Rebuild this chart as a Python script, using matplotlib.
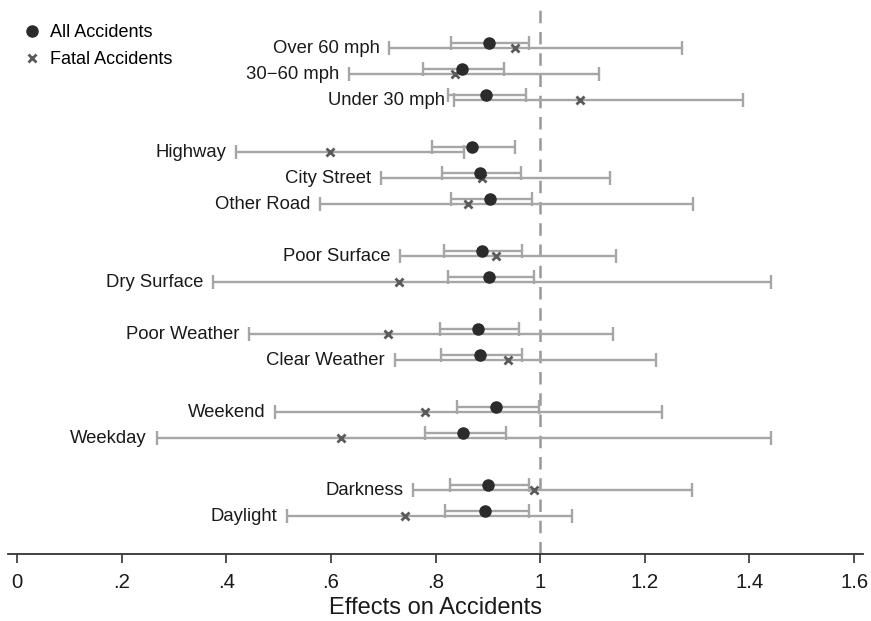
import numpy as np
import matplotlib
matplotlib.use("Agg")
import matplotlib.pyplot as plt

plt.rcParams['font.family'] = ['Liberation Sans', 'DejaVu Sans']

# Categories grouped as in the figure (blank row between groups)
groups = [
    ["Over 60 mph", "30\u221260 mph", "Under 30 mph"],
    ["Highway", "City Street", "Other Road"],
    ["Poor Surface", "Dry Surface"],
    ["Poor Weather", "Clear Weather"],
    ["Weekend", "Weekday"],
    ["Darkness", "Daylight"],
]

# All accidents: estimate, lower, upper
all_est = [0.903, 0.851, 0.897, 0.869, 0.886, 0.904, 0.888, 0.903, 0.882, 0.885, 0.915, 0.853, 0.900, 0.895]
all_lo = [0.830, 0.776, 0.824, 0.794, 0.813, 0.829, 0.817, 0.823, 0.809, 0.811, 0.841, 0.780, 0.827, 0.818]
all_hi = [0.979, 0.930, 0.973, 0.951, 0.964, 0.985, 0.965, 0.988, 0.959, 0.965, 0.997, 0.934, 0.978, 0.978]

# Fatal accidents: estimate, lower, upper
fat_est = [0.952, 0.838, 1.077, 0.598, 0.888, 0.863, 0.916, 0.731, 0.709, 0.939, 0.779, 0.619, 0.988, 0.741]
fat_lo = [0.712, 0.634, 0.836, 0.418, 0.696, 0.579, 0.733, 0.374, 0.443, 0.722, 0.494, 0.267, 0.757, 0.517]
fat_hi = [1.271, 1.112, 1.387, 0.855, 1.134, 1.292, 1.145, 1.442, 1.140, 1.221, 1.232, 1.442, 1.291, 1.061]

xticks = [0, 0.2, 0.4, 0.6, 0.8, 1.0, 1.2, 1.4, 1.6]
xticklabels = ["0", ".2", ".4", ".6", ".8", "1", "1.2", "1.4", "1.6"]

# row positions
labels, rows = [], []
r = 0
for g in groups:
    for lab in g:
        labels.append(lab)
        rows.append(r)
        r += 1
    r += 1
rows = np.array(rows, dtype=float)

all_est = np.array(all_est); all_lo = np.array(all_lo); all_hi = np.array(all_hi)
fat_est = np.array(fat_est); fat_lo = np.array(fat_lo); fat_hi = np.array(fat_hi)

fig = plt.figure(figsize=(8.71, 6.21), dpi=100)
ax = fig.add_axes([0.0092, 0.1079, 0.9816, 0.884])

ebar = '#a6a6a6'
y_all = rows - 0.2

ax.axvline(1, color='#999999', lw=1.8, ls=(0, (5, 3.5)), zorder=1)

ax.errorbar(fat_est, rows, xerr=[fat_est - fat_lo, fat_hi - fat_est], fmt='none',
            ecolor=ebar, elinewidth=1.7, capsize=5, capthick=1.7, zorder=2)
ax.errorbar(all_est, y_all, xerr=[all_est - all_lo, all_hi - all_est], fmt='none',
            ecolor=ebar, elinewidth=1.7, capsize=5, capthick=1.7, zorder=2)

ax.plot(all_est, y_all, 'o', color='#2b2b2b', ms=8, zorder=4, label='All Accidents')
ax.plot(fat_est, rows, 'x', color='#5a5a5a', ms=6, mew=2, zorder=3, label='Fatal Accidents')

for lab, y, lo in zip(labels, rows, fat_lo):
    ax.annotate(lab, (lo, y), xytext=(-7, 0), textcoords='offset points',
                ha='right', va='center', fontsize=13.3, color='#1a1a1a')

ax.set_xlim(-0.017, 1.617)
ax.set_ylim(19.45, -1.67)
ax.set_yticks([])
for s in ['left', 'right', 'top']:
    ax.spines[s].set_visible(False)
ax.spines['bottom'].set_color('#333333')
ax.spines['bottom'].set_linewidth(1.3)
ax.set_xticks(xticks)
ax.set_xticklabels(xticklabels)
ax.tick_params(axis='x', length=6.5, width=1.2, color='#333333', labelsize=14.7,
               labelcolor='#1a1a1a', pad=7)
ax.set_xlabel('Effects on Accidents', fontsize=17, color='#1a1a1a', labelpad=4)

ax.legend(loc='upper left', bbox_to_anchor=(0.0, 0.985), frameon=False, fontsize=13,
          handletextpad=0.25, borderaxespad=0.2, labelspacing=0.55, handlelength=1.5)

fig.savefig('out.png', dpi=100)
